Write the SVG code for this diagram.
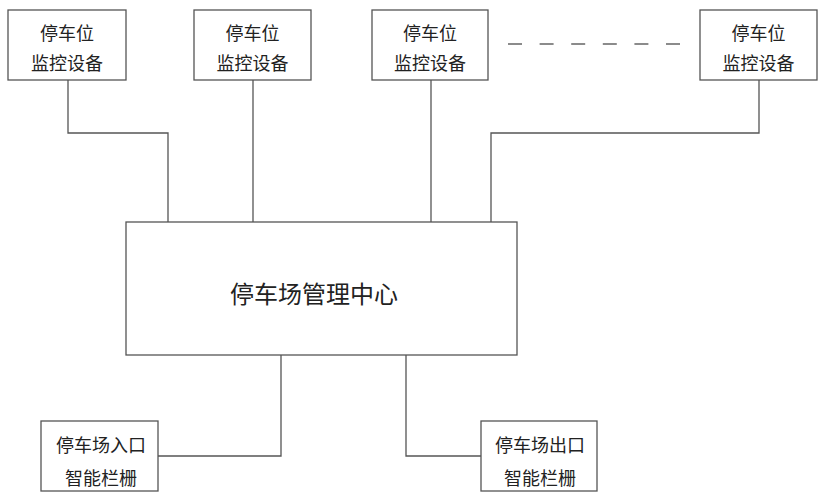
<svg xmlns="http://www.w3.org/2000/svg" width="826" height="500" viewBox="0 0 826 500">
<style>
.box{fill:#fff;stroke:#555;stroke-width:1.3}
.t{font-family:"Noto Sans CJK SC","Noto Sans",sans-serif;font-size:18px;fill:#222;text-anchor:middle;dominant-baseline:central}
.big{font-size:24px}
.c{fill:none;stroke:#555;stroke-width:1.3}
</style>
<rect width="826" height="500" fill="#fff"/>
<g id="connectors">
<polyline class="c" points="68,80 68,133 168,133 168,222"/>
<polyline class="c" points="253,80 253,222"/>
<polyline class="c" points="431,80 431,222"/>
<polyline class="c" points="759,80 759,133 491,133 491,222"/>
<polyline class="c" points="281,355 281,456 158,456"/>
<polyline class="c" points="406,355 406,456 481,456"/>
</g>
<g id="dots">
<line x1="508" y1="44" x2="682" y2="44" stroke="#666" stroke-width="1.3" stroke-dasharray="14 17.6"/>
</g>
<g id="mon1"><rect class="box" x="8" y="10" width="118" height="70"/><text class="t" x="67" y="32">停车位</text><text class="t" x="67" y="62">监控设备</text></g>
<g id="mon2"><rect class="box" x="194" y="10" width="117" height="70"/><text class="t" x="252.5" y="32">停车位</text><text class="t" x="252.5" y="62">监控设备</text></g>
<g id="mon3"><rect class="box" x="372" y="10" width="116" height="70"/><text class="t" x="430" y="32">停车位</text><text class="t" x="430" y="62">监控设备</text></g>
<g id="mon4"><rect class="box" x="700" y="10" width="117" height="70"/><text class="t" x="758.5" y="32">停车位</text><text class="t" x="758.5" y="62">监控设备</text></g>
<g id="center"><rect class="box" x="126" y="222" width="391" height="133"/><text class="t big" x="314" y="292">停车场管理中心</text></g>
<g id="entry"><rect class="box" x="41" y="421" width="117" height="70"/><text class="t" x="101" y="444">停车场入口</text><text class="t" x="101" y="477">智能栏栅</text></g>
<g id="exit"><rect class="box" x="481" y="421" width="116" height="70"/><text class="t" x="540" y="444">停车场出口</text><text class="t" x="540" y="477">智能栏栅</text></g>
</svg>
